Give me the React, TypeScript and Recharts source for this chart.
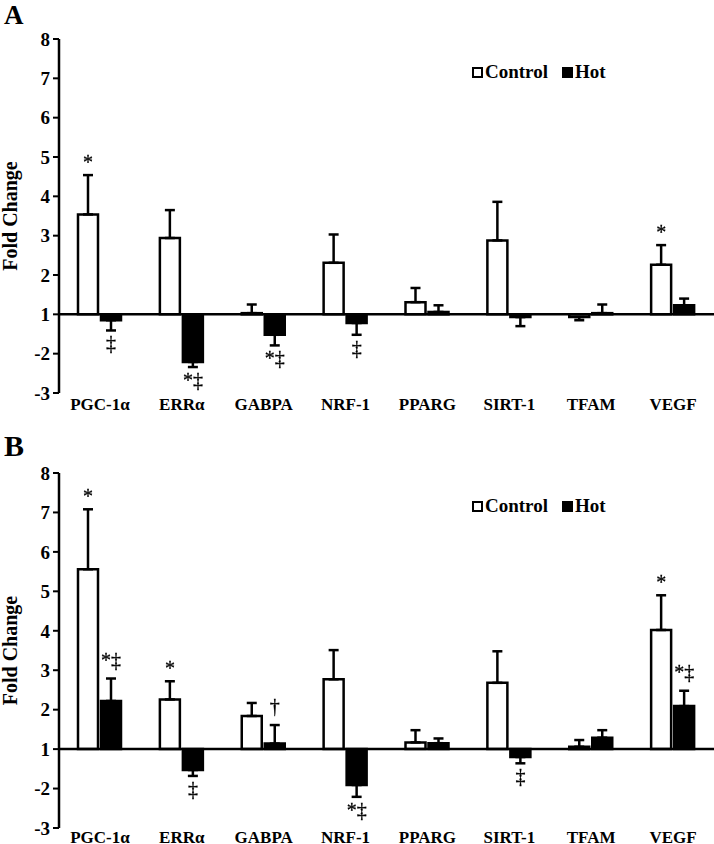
import React from 'react';
import { BarChart, Bar, XAxis, YAxis, ErrorBar, ReferenceLine, LabelList } from 'recharts';

const genes = ['PGC-1α', 'ERRα', 'GABPA', 'NRF-1', 'PPARG', 'SIRT-1', 'TFAM', 'VEGF'];

// Panel A – fold change (values >= 1 up-regulated, <= -1 down-regulated)
const controlA = [3.54, 2.94, 1.03, 2.31, 1.31, 2.88, -1.07, 2.26];
const controlAErr = [1.0, 0.71, 0.22, 0.72, 0.36, 0.98, 0.08, 0.5];
const hotA = [-1.15, -2.21, -1.52, -1.22, 1.06, -1.07, 1.03, 1.23];
const hotAErr = [0.26, 0.13, 0.27, 0.3, 0.17, 0.23, 0.22, 0.17];
const markControlA = ['*', '', '', '', '', '', '', '*'];
const markHotA = ['‡', '*‡', '*‡', '‡', '', '', '', ''];

// Panel B
const controlB = [5.56, 2.26, 1.84, 2.77, 1.17, 2.68, 1.06, 4.02];
const controlBErr = [1.52, 0.46, 0.33, 0.74, 0.31, 0.8, 0.17, 0.88];
const hotB = [2.22, -1.53, 1.14, -1.91, 1.15, -1.2, 1.29, 2.09];
const hotBErr = [0.57, 0.15, 0.47, 0.3, 0.12, 0.16, 0.19, 0.39];
const markControlB = ['*', '*', '', '', '', '', '', '*'];
const markHotB = ['*‡', '‡', '†', '*‡', '', '‡', '', '*‡'];

const yTicks = [-2, -1, 0, 1, 2, 3, 4, 5, 6, 7];

const FONT = '"Liberation Serif", "Times New Roman", Times, serif';

// fold-change axis: 1 sits at the baseline, -2 one step below it
const toAxis = (f: number) => (f >= 1 ? f - 1 : f + 1);
const fromAxis = (v: number) => (v >= 0 ? v + 1 : v - 1);
const errRange = (f: number, e: number) => (f >= 1 ? [0, e] : [e, 0]);

function buildRows(c: number[], ce: number[], h: number[], he: number[], mc: string[], mh: string[]) {
  return genes.map((g, i) => ({
    gene: g,
    control: toAxis(c[i]),
    controlErr: errRange(c[i], ce[i]),
    controlE: ce[i],
    controlMark: mc[i],
    hot: toAxis(h[i]),
    hotErr: errRange(h[i], he[i]),
    hotE: he[i],
    hotMark: mh[i],
  }));
}

const rowsA = buildRows(controlA, controlAErr, hotA, hotAErr, markControlA, markHotA);
const rowsB = buildRows(controlB, controlBErr, hotB, hotBErr, markControlB, markHotB);

const makeMarker = (rows: any[], key: 'control' | 'hot', pxPerUnit: number) => (props: any) => {
  const index = props.index;
  if (index == null) return null;
  const row = rows[index];
  const mark = row[key + 'Mark'];
  if (!mark) return null;
  const vb = props.viewBox && props.viewBox.width != null ? props.viewBox : props;
  const x = Number(vb.x), y = Number(vb.y), w = Number(vb.width), h = Number(vb.height);
  const top = Math.min(y, y + h);
  const bottom = Math.max(y, y + h);
  const cx = x + w / 2;
  const v = row[key];
  const e = row[key + 'E'];
  const tall = /[‡†]/.test(mark);
  const ty = v >= 0 ? top - e * pxPerUnit - (tall ? 12 : 6) : bottom + e * pxPerUnit + 20;
  return (
    <text
      key={`m-${key}-${index}`}
      x={cx}
      y={ty}
      textAnchor="middle"
      fontFamily={FONT}
      fontSize={20}
      fill="#000"
      stroke="#000"
      strokeWidth={0.3}
      style={{ filter: 'grayscale(100%)' }}
    >
      {mark}
    </text>
  );
};

const YLabel = (props: any) => {
  const vb = props.viewBox || {};
  const cy = vb.y + vb.height / 2;
  return (
    <text
      x={17}
      y={cy}
      transform={`rotate(-90, 17, ${cy})`}
      textAnchor="middle"
      fontFamily={FONT}
      fontWeight="bold"
      fontSize={20}
      fill="#000"
    >
      Fold Change
    </text>
  );
};

type PanelProps = {
  rows: any[];
  top: number;
  height: number;
  marginTop: number;
  xHeight: number;
  xMargin: number;
  letter: string;
  letterY: number;
  letterSize: number;
  legendY: number;
};

const Panel = ({ rows, top, height, marginTop, xHeight, xMargin, letter, letterY, letterSize, legendY }: PanelProps) => {
  const plotH = height - marginTop - xHeight;
  const ppu = plotH / 9;
  return (
    <div style={{ position: 'absolute', left: 0, top, width: 714, height }}>
      <BarChart
        width={714}
        height={height}
        data={rows}
        margin={{ top: marginTop, right: 0, bottom: 0, left: 0 }}
        barSize={20}
        barGap={3}
        style={{ overflow: 'visible' }}
      >
        <XAxis
          dataKey="gene"
          axisLine={false}
          tickLine={false}
          tickSize={0}
          tickMargin={xMargin}
          interval={0}
          height={xHeight}
          tick={{ fontFamily: FONT, fontWeight: 'bold', fontSize: 17, fill: '#000' }}
        />
        <YAxis
          width={59}
          domain={[-2, 7]}
          ticks={yTicks}
          interval={0}
          allowDataOverflow
          tickFormatter={(v: number) => String(fromAxis(v))}
          axisLine={{ stroke: '#000', strokeWidth: 2.5 }}
          tickLine={{ stroke: '#000', strokeWidth: 2 }}
          tickSize={6}
          tickMargin={3}
          tick={{ fontFamily: FONT, fontWeight: 'bold', fontSize: 19, fill: '#000' }}
          label={<YLabel />}
        />
        <Bar dataKey="control" fill="#fff" stroke="#000" strokeWidth={2.5} isAnimationActive={false}>
          <ErrorBar dataKey="controlErr" width={5} stroke="#000" strokeWidth={2.5} direction="y" />
          <LabelList dataKey="control" content={makeMarker(rows, 'control', ppu)} />
        </Bar>
        <Bar dataKey="hot" fill="#000" stroke="#000" strokeWidth={2.5} isAnimationActive={false}>
          <ErrorBar dataKey="hotErr" width={5} stroke="#000" strokeWidth={2.5} direction="y" />
          <LabelList dataKey="hot" content={makeMarker(rows, 'hot', ppu)} />
        </Bar>
        <ReferenceLine y={0} stroke="#000" strokeWidth={2.5} />
      </BarChart>
      <div
        style={{
          position: 'absolute',
          left: 4,
          top: letterY,
          fontFamily: FONT,
          fontWeight: 'bold',
          fontSize: letterSize,
          lineHeight: `${Math.round(letterSize * 1.15)}px`,
          color: '#000',
        }}
      >
        {letter}
      </div>
      <div
        style={{
          position: 'absolute',
          left: 472,
          top: legendY - 11,
          height: 22,
          display: 'flex',
          alignItems: 'center',
          fontFamily: FONT,
          fontWeight: 'bold',
          fontSize: 19,
          color: '#000',
          whiteSpace: 'nowrap',
        }}
      >
        <span style={{ display: 'inline-block', width: 11, height: 11, boxSizing: 'border-box', border: '2.5px solid #000', background: '#fff' }} />
        <span style={{ marginLeft: 2 }}>Control</span>
        <span style={{ display: 'inline-block', width: 11, height: 11, background: '#000', marginLeft: 14 }} />
        <span style={{ marginLeft: 2 }}>Hot</span>
      </div>
    </div>
  );
};

export default function App() {
  return (
    <div style={{ position: 'absolute', left: 0, top: 0, width: 714, height: 844, background: '#fff', overflow: 'hidden' }}>
      <Panel rows={rowsA} top={0} height={420} marginTop={39} xHeight={27} xMargin={5} letter="A" letterY={0} letterSize={27} legendY={72} />
      <Panel rows={rowsB} top={420} height={424} marginTop={53} xHeight={16} xMargin={3} letter="B" letterY={8} letterSize={30} legendY={86} />
    </div>
  );
}
